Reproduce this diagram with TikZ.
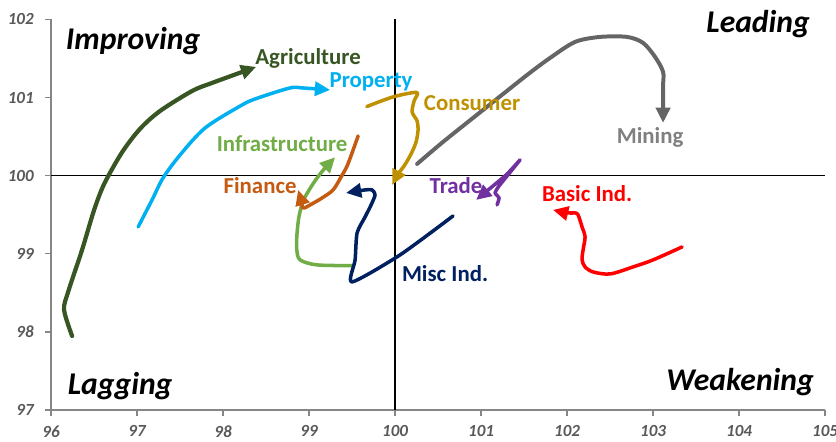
\documentclass[tikz,border=0pt]{standalone}
\usepackage{fontspec}
\setmainfont{Carlito}
\usetikzlibrary{
	arrows.meta,
	positioning,
}
\definecolor{AgriGreen}{HTML}{375623}
\definecolor{PropBlue}{HTML}{00B0F0}
\definecolor{InfraGreen}{HTML}{70AD47}
\definecolor{FinOrange}{HTML}{C55A11}
\definecolor{ConsGold}{HTML}{BF9000}
\definecolor{MineLine}{HTML}{656565}
\definecolor{MineText}{HTML}{808080}
\definecolor{TradePurple}{HTML}{7030A0}
\definecolor{BasicRed}{HTML}{FF0000}
\definecolor{MiscNavy}{HTML}{002060}
\definecolor{AxisGray}{HTML}{868686}
\definecolor{TickGray}{HTML}{595959}

\begin{document}
\begin{tikzpicture} [
			x=2.58cm,y=2.343cm,
			every node/.style={align=center,inner sep=0pt},
			axis/.style={draw=AxisGray,line width=1.2pt},
			quadline/.style={draw=black,line width=1.1pt},
			ticklbl/.style={text=TickGray,font=\fontsize{14.5}{15}\selectfont\bfseries\itshape},
			quad/.style={anchor=base,font=\fontsize{27}{28}\selectfont\bfseries\itshape},
			sector/.style={anchor=base,font=\fontsize{19.5}{20}\selectfont\bfseries},
			trail/.style={line width=3pt,line join=round,line cap=round,-{Triangle[length=13pt,width=12pt]}}
		]
		\useasboundingbox (95.407,96.603) rectangle (105.128,102.25);

		\draw[axis] (96,102) -- (96,97) -- (105,97);
		\foreach \y in {97,...,102} {
			\draw[axis] (95.93,\y) -- (96,\y);
			\node[ticklbl,anchor=east] (yl\y) at (95.80,\y) {\y};
		}
		\foreach \x in {96,...,105} {
			\draw[axis] (\x,97) -- (\x,96.923);
			\node[ticklbl] (xl\x) at (\x,96.725) {\x};
		}
		\draw[quadline] (100,97) -- (100,102);
		\draw[quadline] (96,100) -- (105,100);

		\node[quad] (improving) at (96.953,101.610) {Improving};
		\node[quad] (leading) at (104.221,101.827) {Leading};
		\node[quad] (lagging) at (96.802,97.192) {Lagging};
		\node[quad] (weakening) at (104.012,97.247) {Weakening};

		% trails
		\draw[trail,AgriGreen,line width=3.6pt] plot[smooth,tension=0.5] coordinates {
			(96.244,97.947) (96.151,98.280) (96.198,98.511) (96.360,99.049) (96.500,99.560)
			(96.620,99.900) (96.826,100.300) (97.035,100.600) (97.267,100.828)
			(97.640,101.084) (97.872,101.187) (98.384,101.392)};
		\draw[trail,PropBlue] plot[smooth,tension=0.5] coordinates {
			(97.012,99.343) (97.174,99.689) (97.302,99.971) (97.500,100.265) (97.791,100.611)
			(98.221,100.905) (98.407,100.995) (98.779,101.123) (98.919,101.123) (99.244,101.097)};
		\draw[trail,InfraGreen] plot[smooth,tension=0.5] coordinates {
			(99.497,98.848) (99.090,98.857) (98.895,98.921) (98.857,99.049) (98.857,99.219)
			(98.876,99.433) (98.904,99.582) (98.934,99.689) (99.050,99.903) (99.166,100.073)
			(99.302,100.235)};
		\draw[trail,FinOrange] plot[smooth,tension=0.5] coordinates {
			(99.570,100.508) (99.512,100.329) (99.442,100.124) (99.372,99.983) (99.279,99.817)
			(99.151,99.714) (99.012,99.625) (98.930,99.586) (98.907,99.689) (98.872,99.815)};
		\draw[trail,ConsGold] plot[smooth,tension=0.5] coordinates {
			(99.671,100.884) (99.977,101.008) (100.252,101.065) (100.221,100.956)
			(100.198,100.816) (100.256,100.700) (100.267,100.585) (100.244,100.431)
			(100.186,100.278) (100.105,100.124) (100.035,100.022) (99.965,99.881)};
		\draw[trail,MineLine,line width=3.4pt] plot[smooth,tension=0.5] coordinates {
			(100.256,100.150) (100.558,100.432) (101.023,100.841) (101.535,101.289)
			(101.802,101.507) (102.093,101.712) (102.384,101.776) (102.698,101.776)
			(102.884,101.699) (103.023,101.520) (103.116,101.328) (103.116,101.136)
			(103.116,100.675)};
		\draw[trail,TradePurple] plot[smooth,tension=0.3] coordinates {
			(101.186,99.625) (101.209,99.714) (101.163,99.778) (101.209,99.868)
			(101.453,100.201) (101.291,100.009) (100.942,99.689)};
		\draw[trail,BasicRed] plot[smooth,tension=0.5] coordinates {
			(103.337,99.087) (103.000,98.921) (102.767,98.831) (102.500,98.741)
			(102.302,98.767) (102.209,98.831) (102.174,98.921) (102.186,99.049)
			(102.209,99.215) (102.174,99.343) (102.128,99.497) (102.093,99.522)
			(102.000,99.522) (101.837,99.561)};
		\draw[trail,MiscNavy] plot[smooth,tension=0.4] coordinates {
			(100.674,99.484) (100.058,98.985) (99.500,98.639) (99.535,98.921)
			(99.558,99.266) (99.651,99.471) (99.721,99.625) (99.767,99.753)
			(99.733,99.817) (99.651,99.817) (99.430,99.778)};

		\node[sector,text=AgriGreen] (agri) at (98.988,101.417) {Agriculture};
		\node[sector,text=PropBlue] (prop) at (99.721,101.132) {Property};
		\node[sector,text=InfraGreen] (infra) at (98.686,100.307) {Infrastructure};
		\node[sector,text=FinOrange] (fin) at (98.430,99.775) {Finance};
		\node[sector,text=ConsGold] (cons) at (100.895,100.832) {Consumer};
		\node[sector,text=MineText] (mine) at (102.965,100.406) {Mining};
		\node[sector,text=TradePurple] (trade) at (100.709,99.775) {Trade};
		\node[sector,text=BasicRed] (basic) at (102.233,99.667) {Basic Ind.};
		\node[sector,text=MiscNavy] (misc) at (100.581,98.643) {Misc Ind.};
	\end{tikzpicture}
\end{document}
